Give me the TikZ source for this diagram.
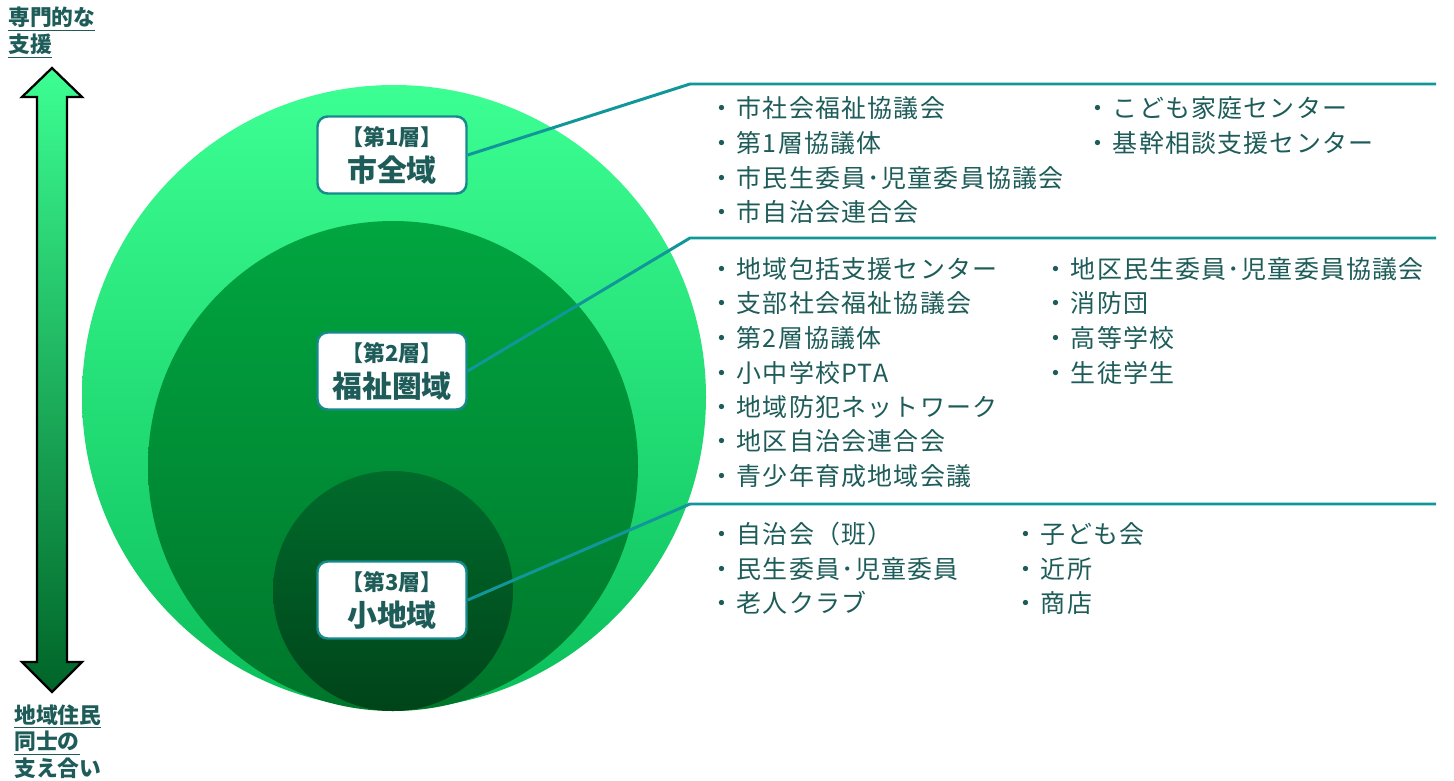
\documentclass[tikz,border=0pt]{standalone}
\usepackage{fontspec}
\setmainfont{Noto Sans CJK JP}
\newfontfamily\itemfont[LetterSpace=5]{Noto Sans CJK JP}
\definecolor{inktext}{HTML}{1D5C59}
\definecolor{boxline}{HTML}{178A8E}
\definecolor{linkline}{HTML}{11979A}
\definecolor{greenA}{HTML}{3CFF93}
\definecolor{greenB}{HTML}{0BBE5A}
\definecolor{greenC}{HTML}{00A640}
\definecolor{greenD}{HTML}{00752B}
\definecolor{greenE}{HTML}{006B2B}
\definecolor{greenF}{HTML}{00441A}
\definecolor{greenG}{HTML}{006428}
\begin{document}
\begin{tikzpicture}[x=0.02cm, y=-0.02cm]
            \tikzset{
                layerbox/.style = {rectangle, rounded corners=0.2cm, line width=1.4pt, minimum width=2.98cm, minimum height=1.54cm, align=center, draw=boxline, fill=white, text=inktext, inner sep=0pt, font=\fontsize{17pt}{20.5pt}\selectfont\bfseries},
                item/.style = {anchor=west, inner sep=0pt, text height=0.88em, text depth=0.12em, text=inktext, font=\itemfont\fontsize{14.2pt}{17pt}\selectfont},
                link/.style = {line width=1.7pt, draw=linkline},
                sidelabel/.style = {anchor=north west, inner sep=0pt, align=left, text=inktext, font=\fontsize{12.4pt}{15.2pt}\selectfont\bfseries}
            }
            \useasboundingbox (0,0) rectangle (1454,781);

            % circles
            \shade[top color=greenA, bottom color=greenB] (394,397) circle (312);
            \shade[top color=greenC, bottom color=greenD] (393,466) circle (245);
            \shade[top color=greenE, bottom color=greenF] (393,591) circle (120);

            % arrow
            \draw[line width=1.3pt, top color=greenA, bottom color=greenG] (52,68) -- (82,97) -- (67,97) -- (67,662) -- (82,662) -- (52,692) -- (22,662) -- (37,662) -- (37,97) -- (22,97) -- cycle;
            \node (top) [sidelabel] at (8,7) {\underline{専門的な}\\\underline{支援}};
            \node (bottom) [sidelabel] at (14,704) {\underline{地域住民}\\\underline{同士の}\\\underline{支え合い}};

            % layer boxes
            \node (b1) [layerbox] at (392,155) {{\fontsize{12.5pt}{14pt}\selectfont 【第1層】}\\市全域};
            \node (b2) [layerbox] at (392,371) {{\fontsize{12.5pt}{14pt}\selectfont 【第2層】}\\福祉圏域};
            \node (b3) [layerbox] at (392,600) {{\fontsize{12.5pt}{14pt}\selectfont 【第3層】}\\小地域};

            \coordinate (c1) at (690,84);
            \coordinate (e1) at (1436,84);
            \coordinate (c2) at (690,238);
            \coordinate (e2) at (1436,238);
            \coordinate (c3) at (690,504);
            \coordinate (e3) at (1436,504);
            \draw [link] (b1.east) -- (c1) -- (e1);
            \draw [link] (b2.east) -- (c2) -- (e2);
            \draw [link] (b3.east) -- (c3) -- (e3);

            % first layer
            \node (l1a) [item] at (709,111) {・\hspace{0.1em}市社会福祉協議会};
            \node (l1b) [item] at (709,146) {・\hspace{0.1em}第1層協議体};
            \node (l1c) [item] at (709,181) {・\hspace{0.1em}市民生委員･児童委員協議会};
            \node (l1d) [item] at (709,215) {・\hspace{0.1em}市自治会連合会};
            \node (l1e) [item] at (1085,111) {・\hspace{0.1em}こども家庭センター};
            \node (l1f) [item] at (1085,146) {・\hspace{0.1em}基幹相談支援センター};

            % second layer
            \node (l2a) [item] at (709,272) {・\hspace{0.1em}地域包括支援センター};
            \node (l2b) [item] at (709,306) {・\hspace{0.1em}支部社会福祉協議会};
            \node (l2c) [item] at (709,341) {・\hspace{0.1em}第2層協議体};
            \node (l2d) [item] at (709,376) {・\hspace{0.1em}小中学校PTA};
            \node (l2e) [item] at (709,410) {・\hspace{0.1em}地域防犯ネットワーク};
            \node (l2f) [item] at (709,444) {・\hspace{0.1em}地区自治会連合会};
            \node (l2g) [item] at (709,479) {・\hspace{0.1em}青少年育成地域会議};
            \node (l2h) [item] at (1043,272) {・\hspace{0.1em}地区民生委員･児童委員協議会};
            \node (l2i) [item] at (1043,306) {・\hspace{0.1em}消防団};
            \node (l2j) [item] at (1043,341) {・\hspace{0.1em}高等学校};
            \node (l2k) [item] at (1043,376) {・\hspace{0.1em}生徒学生};

            % third layer
            \node (l3a) [item] at (709,537) {・\hspace{0.1em}自治会（班）};
            \node (l3b) [item] at (709,572) {・\hspace{0.1em}民生委員･児童委員};
            \node (l3c) [item] at (709,606) {・\hspace{0.1em}老人クラブ};
            \node (l3d) [item] at (1013,537) {・\hspace{0.1em}子ども会};
            \node (l3e) [item] at (1013,572) {・\hspace{0.1em}近所};
            \node (l3f) [item] at (1013,606) {・\hspace{0.1em}商店};

        \end{tikzpicture}
\end{document}
